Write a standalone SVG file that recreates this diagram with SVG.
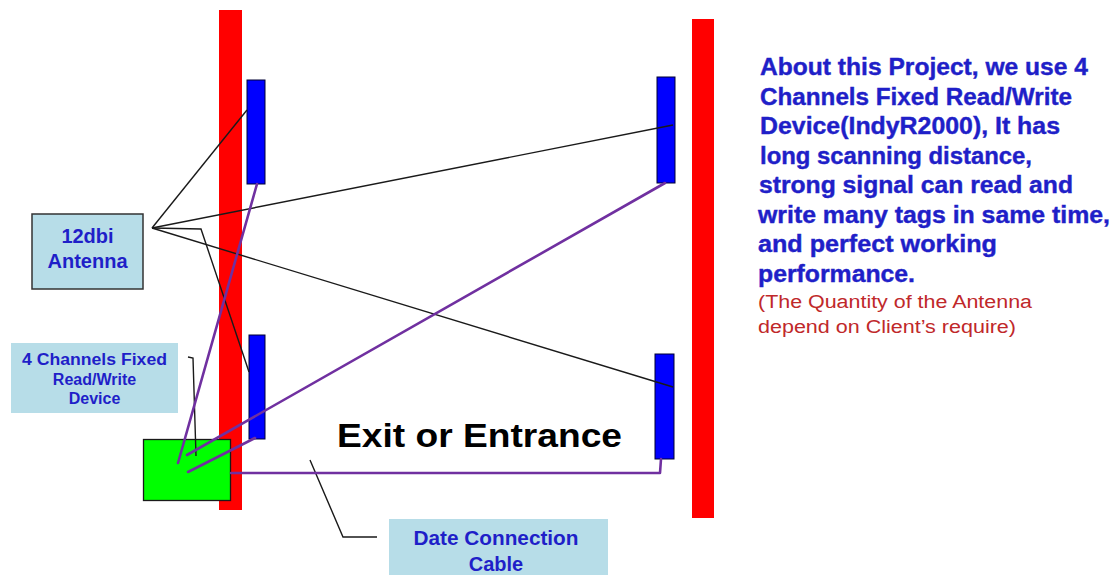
<svg xmlns="http://www.w3.org/2000/svg" width="1118" height="575" viewBox="0 0 1118 575">
<style>
.wall{fill:#ff0000;stroke:none}
.ant{fill:#0000ff;stroke:#000033;stroke-width:1}
.lbl{fill:#b7dde8}
.thin{fill:none;stroke:#1a1a1a;stroke-width:1.4}
.cable{fill:none;stroke:#7030a0;stroke-width:2.6;stroke-linecap:round}
.bt{font-family:"Liberation Sans",Arial,sans-serif;font-weight:bold;fill:#1f1fc8}
.desc{stroke:#1f1fc8;stroke-width:0.4}
.rt{font-family:"Liberation Sans",Arial,sans-serif;fill:#c0282a}
</style>
<rect width="1118" height="575" fill="#ffffff"/>
<g id="wall-left"><rect class="wall" x="219" y="10" width="23" height="500"/></g>
<g id="wall-right"><rect class="wall" x="692" y="19" width="22" height="499"/></g>
<g id="antenna-ul"><rect class="ant" x="247" y="80" width="18" height="104"/></g>
<g id="antenna-ll"><rect class="ant" x="249" y="335" width="16" height="104"/></g>
<g id="antenna-ur"><rect class="ant" x="657" y="77" width="18" height="106"/></g>
<g id="antenna-lr"><rect class="ant" x="655" y="354" width="19" height="105"/></g>
<g id="device"><rect x="143.5" y="439.5" width="87" height="61" fill="#00ff00" stroke="#1a1a1a" stroke-width="1.3"/></g>
<g id="connectors">
<path class="thin" d="M152,228 L247,110"/>
<path class="thin" d="M152,228 L673,125"/>
<path class="thin" d="M152,228 L673,387"/>
<path class="thin" d="M152,228 L201,229 L249,372"/>
<path class="thin" d="M188,357 L193,358 L196,456"/>
<path class="thin" d="M310,460 L343,537 L377,537"/>
<path class="cable" d="M178,463 L257,184"/>
<path class="cable" d="M187,455 L665,183"/>
<path class="cable" d="M188,472 L255,438"/>
<path class="cable" d="M231,473 L660,473 L661,459" stroke-linejoin="round"/>
</g>
<g id="label-antenna">
<rect class="lbl" x="32" y="214" width="111" height="75" stroke="#333333" stroke-width="1.5"/>
<text class="bt" x="87.5" y="243" font-size="20" text-anchor="middle">12dbi</text>
<text class="bt" x="87.5" y="268" font-size="20" text-anchor="middle">Antenna</text>
</g>
<g id="label-device">
<rect class="lbl" x="11" y="343" width="167" height="70"/>
<text class="bt" x="94.5" y="365" font-size="16" text-anchor="middle" textLength="145" lengthAdjust="spacingAndGlyphs">4 Channels Fixed</text>
<text class="bt" x="94.5" y="385" font-size="16" text-anchor="middle">Read/Write</text>
<text class="bt" x="94.5" y="404" font-size="16" text-anchor="middle">Device</text>
</g>
<g id="label-cable">
<rect class="lbl" x="389" y="519" width="219" height="56"/>
<text class="bt" x="496" y="545" font-size="20" text-anchor="middle" textLength="165" lengthAdjust="spacingAndGlyphs">Date Connection</text>
<text class="bt" x="496" y="571" font-size="20" text-anchor="middle">Cable</text>
</g>
<g id="label-exit">
<text x="337" y="447" font-family="'Liberation Sans',Arial,sans-serif" font-weight="bold" font-size="33" fill="#000000" textLength="285" lengthAdjust="spacingAndGlyphs">Exit or Entrance</text>
</g>
<g id="description">
<text class="bt desc" x="760" y="75" font-size="23" textLength="328" lengthAdjust="spacingAndGlyphs">About this Project, we use 4</text>
<text class="bt desc" x="760" y="104.5" font-size="23" textLength="312" lengthAdjust="spacingAndGlyphs">Channels Fixed Read/Write</text>
<text class="bt desc" x="760" y="134" font-size="23" textLength="300" lengthAdjust="spacingAndGlyphs">Device(IndyR2000), It has</text>
<text class="bt desc" x="760" y="163.5" font-size="23" textLength="272" lengthAdjust="spacingAndGlyphs">long scanning distance,</text>
<text class="bt desc" x="759" y="193" font-size="23" textLength="314" lengthAdjust="spacingAndGlyphs">strong signal can read and</text>
<text class="bt desc" x="758" y="222.5" font-size="23" textLength="352" lengthAdjust="spacingAndGlyphs">write many tags in same time,</text>
<text class="bt desc" x="758" y="252" font-size="23" textLength="239" lengthAdjust="spacingAndGlyphs">and perfect working</text>
<text class="bt desc" x="758" y="281.5" font-size="23" textLength="157" lengthAdjust="spacingAndGlyphs">performance.</text>
<text class="rt" x="758" y="308" font-size="18" textLength="274" lengthAdjust="spacingAndGlyphs">(The Quantity  of the Antenna</text>
<text class="rt" x="758" y="333" font-size="18" textLength="258" lengthAdjust="spacingAndGlyphs">depend on Client’s require)</text>
</g>
</svg>
